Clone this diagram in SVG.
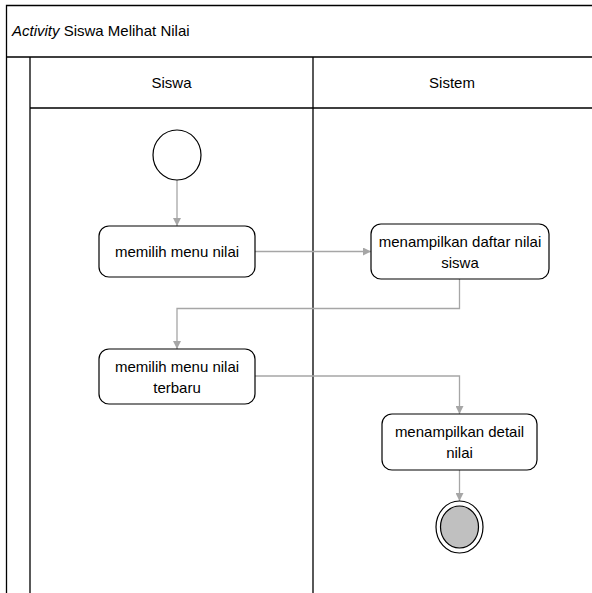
<svg xmlns="http://www.w3.org/2000/svg" width="592" height="593" viewBox="0 0 592 593">
<style>
.frame{fill:none;stroke:#000;stroke-width:1.3}
.node{fill:#fff;stroke:#000;stroke-width:1.2}
.conn{fill:none;stroke:#a6a6a6;stroke-width:1.3}
text{font-family:"Liberation Sans",Arial,sans-serif;font-size:15px;fill:#000}
.c{text-anchor:middle}
</style>
<defs>
<marker id="arr" viewBox="0 0 10 10" refX="10" refY="5" markerWidth="8" markerHeight="8" markerUnits="userSpaceOnUse" orient="auto">
<path d="M0,0 L10,5 L0,10 Z" fill="#a6a6a6"/>
</marker>
</defs>
<rect width="592" height="593" fill="#fff"/>
<g id="frame">
<path class="frame" d="M592,5.5 H6.5 V593 M6.5,57 H592 M30,57 V593 M30,108 H592 M313,57 V593"/>
<text x="12" y="36"><tspan font-style="italic">Activity</tspan> Siswa Melihat Nilai</text>
<text class="c" x="171.5" y="88">Siswa</text>
<text class="c" x="452" y="88">Sistem</text>
</g>
<g id="connectors">
<path class="conn" d="M177,180 V226" marker-end="url(#arr)"/>
<path class="conn" d="M255,251.5 H371" marker-end="url(#arr)"/>
<path class="conn" d="M459.5,279 V308.5 H177 V349" marker-end="url(#arr)"/>
<path class="conn" d="M255,376 H459.5 V414" marker-end="url(#arr)"/>
<path class="conn" d="M459.5,470 V501" marker-end="url(#arr)"/>
</g>
<g id="start">
<ellipse class="node" cx="177" cy="155" rx="24" ry="25"/>
</g>
<g id="a1">
<rect class="node" x="99" y="226" width="156" height="51" rx="10"/>
<text class="c" x="177" y="257">memilih menu nilai</text>
</g>
<g id="a2">
<rect class="node" x="371" y="224" width="178" height="55" rx="10"/>
<text class="c" x="460" y="247">menampilkan daftar nilai</text>
<text class="c" x="460" y="268">siswa</text>
</g>
<g id="a3">
<rect class="node" x="99" y="349" width="156" height="55" rx="10"/>
<text class="c" x="177" y="372">memilih menu nilai</text>
<text class="c" x="177" y="393">terbaru</text>
</g>
<g id="a4">
<rect class="node" x="382" y="414" width="155" height="56" rx="10"/>
<text class="c" x="459.5" y="437">menampilkan detail</text>
<text class="c" x="459.5" y="458">nilai</text>
</g>
<g id="end">
<ellipse class="node" cx="459.5" cy="527" rx="23.5" ry="26"/>
<ellipse cx="459.5" cy="527" rx="19" ry="21" fill="#c0c0c0" stroke="#000" stroke-width="1.2"/>
</g>
</svg>
